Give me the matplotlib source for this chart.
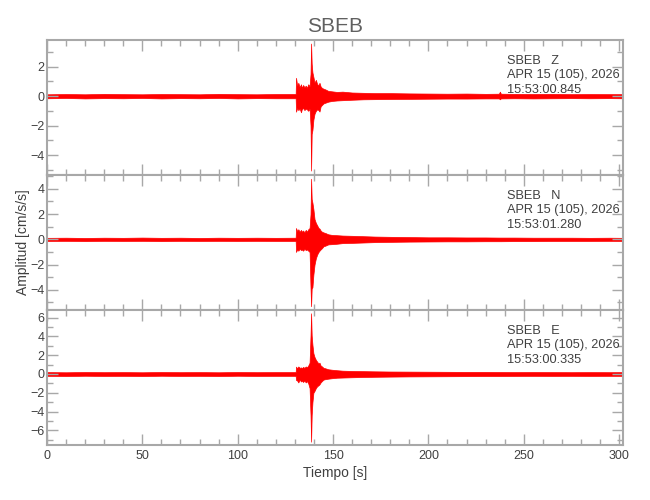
import matplotlib
matplotlib.use("Agg")
import matplotlib.pyplot as plt
from matplotlib.ticker import MultipleLocator

plt.rcParams['font.family'] = ['Liberation Sans', 'DejaVu Sans']

# envelope of each trace (max / min per time bin)
t_env = [0, 10, 20, 30, 40, 50, 60, 70, 80, 90, 100, 110, 120, 130.4,
         130.6, 131.2, 131.8, 132.5, 133.2, 133.6, 134.3, 135.0, 135.7, 136.3,
         137.0, 137.7, 138.2, 138.5, 138.8, 139.2, 139.7, 140.3, 141.0, 141.7,
         142.4, 142.9, 143.5, 144.2, 145.0, 146.0, 147.5, 149.5, 152, 155,
         160, 166, 172, 180, 190, 200, 210, 220, 230, 237, 237.5, 238,
         245, 255, 265, 275, 285, 295, 302]

z_up = [0.12, 0.14, 0.12, 0.15, 0.13, 0.12, 0.14, 0.13, 0.12, 0.15, 0.13, 0.12, 0.14, 0.14,
        1.24, 0.70, 0.90, 0.60, 0.80, 0.55, 0.75, 0.60, 0.70, 0.55,
        0.80, 0.65, 1.50, 3.56, 2.20, 1.60, 1.30, 0.90, 1.10, 0.80,
        0.75, 0.90, 0.65, 0.55, 0.50, 0.45, 0.35, 0.32, 0.28, 0.30,
        0.24, 0.22, 0.20, 0.20, 0.18, 0.17, 0.16, 0.17, 0.15, 0.16, 0.30, 0.16,
        0.15, 0.14, 0.15, 0.13, 0.14, 0.13, 0.13]
z_dn = [-0.15, -0.13, -0.16, -0.14, -0.15, -0.13, -0.16, -0.14, -0.15, -0.13, -0.16, -0.14, -0.15, -0.15,
        -1.06, -0.80, -0.95, -0.85, -1.10, -0.90, -0.80, -0.95, -0.85, -0.90,
        -1.00, -0.85, -2.00, -5.05, -2.57, -2.30, -1.60, -1.20, -1.00, -0.90,
        -0.95, -1.05, -0.70, -0.60, -0.50, -0.45, -0.38, -0.33, -0.30, -0.28,
        -0.25, -0.22, -0.21, -0.20, -0.19, -0.18, -0.17, -0.17, -0.16, -0.16, -0.22, -0.16,
        -0.15, -0.16, -0.15, -0.14, -0.15, -0.14, -0.15]

n_up = [0.12, 0.13, 0.11, 0.13, 0.12, 0.14, 0.12, 0.13, 0.11, 0.13, 0.12, 0.13, 0.12, 0.13,
        0.90, 0.65, 0.80, 0.60, 0.75, 0.60, 0.70, 0.55, 0.75, 0.60,
        0.80, 0.90, 2.00, 4.80, 3.20, 2.90, 2.40, 1.60, 1.30, 1.10,
        0.90, 0.85, 0.70, 0.60, 0.55, 0.50, 0.40, 0.35, 0.33, 0.30,
        0.28, 0.25, 0.22, 0.20, 0.18, 0.16, 0.16, 0.15, 0.15, 0.14, 0.14, 0.14,
        0.14, 0.13, 0.13, 0.13, 0.12, 0.13, 0.12]
n_dn = [-0.13, -0.12, -0.14, -0.12, -0.13, -0.12, -0.14, -0.12, -0.13, -0.12, -0.13, -0.12, -0.13, -0.13,
        -1.00, -0.80, -0.90, -0.75, -0.85, -0.80, -0.90, -0.75, -0.85, -0.80,
        -0.90, -1.00, -3.90, -5.30, -3.90, -3.80, -2.80, -2.00, -1.50, -1.20,
        -1.00, -0.90, -0.80, -0.70, -0.55, -0.50, -0.40, -0.38, -0.35, -0.30,
        -0.28, -0.25, -0.22, -0.20, -0.18, -0.17, -0.16, -0.16, -0.15, -0.15, -0.15, -0.15,
        -0.14, -0.14, -0.13, -0.13, -0.13, -0.12, -0.13]

e_up = [0.20, 0.18, 0.21, 0.19, 0.20, 0.18, 0.21, 0.19, 0.20, 0.18, 0.21, 0.19, 0.20, 0.20,
        0.78, 0.60, 0.80, 0.65, 0.70, 0.60, 0.75, 0.65, 0.80, 0.70,
        0.90, 1.20, 4.10, 6.45, 4.10, 3.10, 2.20, 1.80, 1.50, 1.30,
        1.10, 1.20, 0.90, 0.80, 0.65, 0.60, 0.50, 0.45, 0.40, 0.35,
        0.32, 0.30, 0.28, 0.26, 0.25, 0.24, 0.23, 0.22, 0.22, 0.21, 0.21, 0.21,
        0.20, 0.21, 0.20, 0.19, 0.20, 0.19, 0.20]
e_dn = [-0.20, -0.22, -0.19, -0.21, -0.20, -0.22, -0.19, -0.21, -0.20, -0.22, -0.19, -0.21, -0.20, -0.20,
        -0.64, -0.70, -0.90, -0.60, -0.80, -0.70, -0.85, -0.70, -0.90, -0.75,
        -1.00, -1.50, -4.40, -7.20, -4.40, -3.00, -2.00, -1.80, -1.50, -1.30,
        -1.20, -1.10, -0.90, -0.75, -0.60, -0.55, -0.50, -0.45, -0.40, -0.38,
        -0.35, -0.32, -0.30, -0.28, -0.26, -0.25, -0.24, -0.23, -0.22, -0.22, -0.22, -0.22,
        -0.21, -0.20, -0.21, -0.20, -0.21, -0.20, -0.20]

components = ['Z', 'N', 'E']
start_times = ['15:53:00.845', '15:53:01.280', '15:53:00.335']
ylims = [(-5.35, 3.8), (-5.6, 5.1), (-7.55, 6.8)]
traces = [(z_up, z_dn), (n_up, n_dn), (e_up, e_dn)]

gray = '#a8a8a8'
txt = '#404040'

fig = plt.figure(figsize=(6.5, 5), dpi=100)
bottoms = [0.65, 0.38, 0.11]
axes = []
for i in range(3):
    ax = fig.add_axes([0.0723, bottoms[i], 0.886, 0.27])
    up, dn = traces[i]
    ax.fill_between(t_env, dn, up, color='#ff0000', lw=0.5, edgecolor='#ff0000')
    ax.set_xlim(0, 302)
    ax.set_ylim(*ylims[i])
    ax.xaxis.set_major_locator(MultipleLocator(50))
    ax.xaxis.set_minor_locator(MultipleLocator(10))
    ax.yaxis.set_major_locator(MultipleLocator(2))
    ax.yaxis.set_minor_locator(MultipleLocator(1))
    ax.tick_params(which='both', direction='in', top=True, right=True,
                   color=gray, labelcolor=txt, labelsize=9, width=1.0)
    ax.tick_params(which='major', length=8)
    ax.tick_params(which='minor', length=4)
    ax.tick_params(axis='y', pad=2)
    for s in ax.spines.values():
        s.set_color(gray)
        s.set_linewidth(1.5)
    if i < 2:
        ax.tick_params(labelbottom=False)
    ax.text(0.799, 0.89,
            f'SBEB   {components[i]}\nAPR 15 (105), 2026\n{start_times[i]}',
            transform=ax.transAxes, ha='left', va='top', fontsize=9.2,
            color=txt, linespacing=1.28)
    axes.append(ax)

axes[0].set_title('SBEB', fontsize=15, color='#606060', pad=6)
axes[1].set_ylabel('Amplitud [cm/s/s]', fontsize=10, color=txt, labelpad=0)
axes[2].set_xlabel('Tiempo [s]', fontsize=10, color=txt, labelpad=3)

plt.savefig('out.png', dpi=100)
